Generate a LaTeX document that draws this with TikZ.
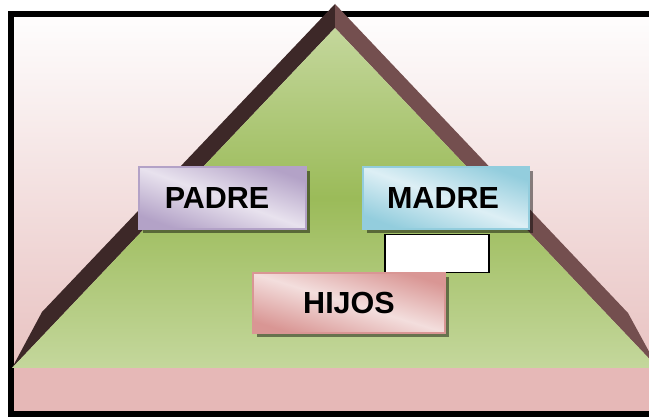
\documentclass[tikz,border=0pt]{standalone}
\usepackage{fontspec}
\setmainfont{Liberation Sans}
\usetikzlibrary{shadows}
\definecolor{bgtop}{HTML}{FEFDFD}
\definecolor{bgbot}{HTML}{E8C2C1}
\definecolor{band}{HTML}{E6B8B7}
\definecolor{gLight}{HTML}{C4D79C}
\definecolor{gDark}{HTML}{9BBB59}
\definecolor{sideL}{HTML}{3D2828}
\definecolor{sideR}{HTML}{744F4F}
\definecolor{purL}{HTML}{E8E2EE}
\definecolor{purD}{HTML}{B3A2C7}
\definecolor{bluL}{HTML}{DDEFF5}
\definecolor{bluD}{HTML}{93CDDD}
\definecolor{pinL}{HTML}{F3DEDD}
\definecolor{pinD}{HTML}{D99694}
\begin{document}
\begin{tikzpicture}[x=1pt,y=1pt,
  famBox/.style={line width=1.3pt, inner sep=0pt,
    font=\fontsize{30.5}{36}\selectfont\bfseries,
    drop shadow={shadow xshift=3.5pt, shadow yshift=-4.5pt, fill=black, opacity=0.45}},
  padreFill/.style={draw=purD, top color=purD, bottom color=purD, middle color=purL, shading angle=-20},
  madreFill/.style={draw=bluD, top color=bluD, bottom color=bluD, middle color=bluL, shading angle=-20},
  hijosFill/.style={draw=pinD, top color=pinD, bottom color=pinD, middle color=pinL, shading angle=-17},
  blankBox/.style={draw=black, fill=white, line width=1.2pt, inner sep=0pt}
]
\useasboundingbox (0,0) rectangle (649,417);
\fill[white] (0,0) rectangle (649,417);
\begin{scope}
\clip (0,0) rectangle (649,417);
\shade[top color=bgtop, bottom color=bgbot] (14,49) rectangle (660,400);
\fill[band] (14,0) rectangle (660,49);
\draw[black, line width=5.7pt] (11.2,3.1) rectangle (700,403.1);
\coordinate (apexO) at (335,413);
\coordinate (apexI) at (335,389);
\coordinate (kinkL) at (42,105);
\coordinate (kinkR) at (628,104);
\coordinate (baseL) at (12,49);
\coordinate (baseR) at (658,49);
\fill[sideL] (apexO) -- (kinkL) -- (baseL) -- (apexI) -- cycle;
\fill[sideR] (apexO) -- (kinkR) -- (baseR) -- (apexI) -- cycle;
\shade[top color=gLight, bottom color=gLight, middle color=gDark] (apexI) -- (baseL) -- (baseR) -- cycle;
\end{scope}
\node[blankBox, minimum width=104pt, minimum height=38.4pt] (blank) at (437,163.5) {};
\node[famBox, padreFill, minimum width=167pt, minimum height=62pt] (padre) at (222.5,219) {PADRE\hspace*{11pt}};
\node[famBox, madreFill, minimum width=166pt, minimum height=62pt] (madre) at (446,219) {MADRE\hspace*{6pt}};
\node[famBox, hijosFill, minimum width=192pt, minimum height=60pt] (hijos) at (349,114) {HIJOS};
\end{tikzpicture}
\end{document}
